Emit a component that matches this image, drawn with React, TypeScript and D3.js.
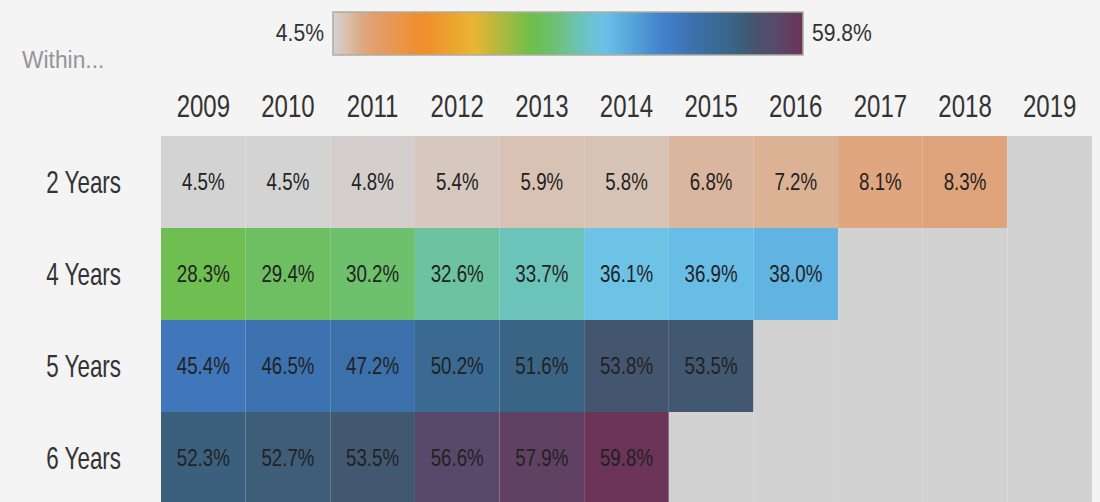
import React from 'react';
import * as d3 from 'd3';

// graduation rates by cohort year
const years = ['2009', '2010', '2011', '2012', '2013', '2014', '2015', '2016', '2017', '2018', '2019'];
const rowLabels = ['2 Years', '4 Years', '5 Years', '6 Years'];
const twoYears = [4.5, 4.5, 4.8, 5.4, 5.9, 5.8, 6.8, 7.2, 8.1, 8.3];
const fourYears = [28.3, 29.4, 30.2, 32.6, 33.7, 36.1, 36.9, 38.0];
const fiveYears = [45.4, 46.5, 47.2, 50.2, 51.6, 53.8, 53.5];
const sixYears = [52.3, 52.7, 53.5, 56.6, 57.9, 59.8];
const series = [twoYears, fourYears, fiveYears, sixYears];

const minVal = 4.5;
const maxVal = 59.8;

const stopPos = [0, 0.07, 0.19, 0.3, 0.42, 0.47, 0.53, 0.575, 0.61, 0.7, 0.76, 0.83, 0.86, 0.89, 0.94, 1];
const stopColors = ['#d3d3d3', '#e0a37a', '#f08c2a', '#e9b534', '#6fbe4a', '#6dc070', '#6cc3bd', '#6cc3e8',
  '#5fb1e0', '#4282cc', '#3d72b0', '#3a6890', '#3a627f', '#43566f', '#574a6b', '#6b3458'];

const W = 1100;
const H = 502;
const font = '"Liberation Sans", Arial, sans-serif';

// squeezed text, to get the narrow look of the original font
function Txt(props: {x: number; y: number; sx: number; size: number; anchor?: string; fill: string; children: React.ReactNode}) {
  return (
    <text transform={`translate(${props.x},${props.y}) scale(${props.sx},1)`} textAnchor={props.anchor || 'start'}
      dominantBaseline="central" fontFamily={font} fontSize={props.size} fill={props.fill}>
      {props.children}
    </text>
  );
}

export default function App() {
  const color = d3.scaleLinear<string>()
    .domain(stopPos.map(t => minVal + t * (maxVal - minVal)))
    .range(stopColors)
    .interpolate(d3.interpolateRgb)
    .clamp(true);

  const x = d3.scaleBand<string>().domain(years).range([161, 1092]);
  const y = d3.scaleBand<string>().domain(rowLabels).range([136, 136 + 4 * 92]);

  const legendX = d3.scaleLinear().domain([minVal, maxVal]).range([333, 803]);
  const gradStops = d3.range(0, 1.0001, 0.02);

  const cells: {row: string; year: string; v: number | null}[] = [];
  rowLabels.forEach((r, i) => {
    years.forEach((yr, j) => {
      const v = series[i][j];
      cells.push({row: r, year: yr, v: v === undefined ? null : v});
    });
  });

  return (
    <svg width={W} height={H} style={{position: 'absolute', left: 0, top: 0, background: '#f4f4f4'}}>
      <defs>
        <linearGradient id="legendGrad" x1="0" x2="1" y1="0" y2="0">
          {gradStops.map(t => (
            <stop key={t} offset={t} stopColor={color(minVal + t * (maxVal - minVal))} />
          ))}
        </linearGradient>
      </defs>
      <rect width={W} height={H} fill="#f4f4f4" />

      {/* legend */}
      <rect x={legendX(minVal)} y={12} width={legendX(maxVal) - legendX(minVal)} height={43}
        fill="url(#legendGrad)" stroke="#aeac9e" strokeWidth={1.5} />
      <Txt x={legendX(minVal) - 9} y={33} sx={0.88} size={24} anchor="end" fill="#333">{minVal.toFixed(1)}%</Txt>
      <Txt x={legendX(maxVal) + 9} y={33} sx={0.88} size={24} fill="#333">{maxVal.toFixed(1)}%</Txt>

      <Txt x={22} y={60} sx={0.95} size={24} fill="#959599">Within...</Txt>

      {/* column headers */}
      {years.map(yr => (
        <Txt key={yr} x={x(yr)! + x.bandwidth() / 2} y={106} sx={0.75} size={32} anchor="middle" fill="#333">{yr}</Txt>
      ))}

      {/* row labels */}
      {rowLabels.map(r => (
        <Txt key={r} x={121} y={y(r)! + y.bandwidth() / 2} sx={0.7} size={32} anchor="end" fill="#333">{r}</Txt>
      ))}

      {/* cells */}
      {cells.map(c => (
        <g key={c.row + c.year}>
          <rect x={x(c.year)} y={y(c.row)} width={x.bandwidth()} height={y.bandwidth()}
            fill={c.v === null ? '#d2d2d2' : color(c.v)} />
          {c.v !== null && (
            <Txt x={x(c.year)! + x.bandwidth() / 2} y={y(c.row)! + y.bandwidth() / 2} sx={0.78} size={24}
              anchor="middle" fill="#222">{c.v.toFixed(1)}%</Txt>
          )}
        </g>
      ))}
    </svg>
  );
}
